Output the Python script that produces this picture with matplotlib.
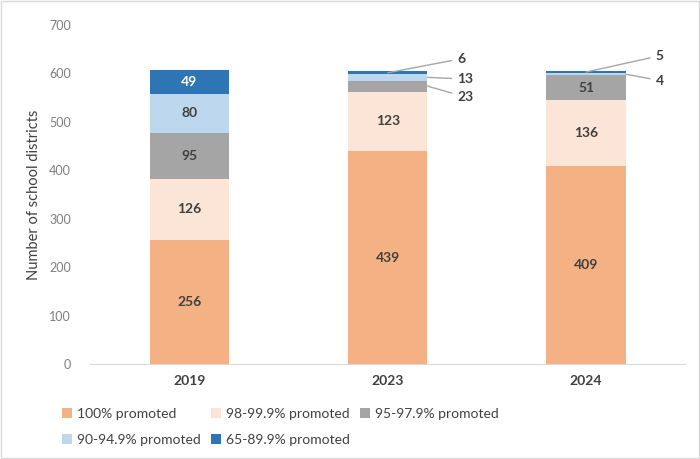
import matplotlib.pyplot as plt
import numpy as np

years = ['2019', '2023', '2024']
series_names = ['100% promoted', '98-99.9% promoted', '95-97.9% promoted',
                '90-94.9% promoted', '65-89.9% promoted']
p100 = [256, 439, 409]
p98 = [126, 123, 136]
p95 = [95, 23, 51]
p90 = [80, 13, 4]
p65 = [49, 6, 5]
colors = ['#F4B183', '#FBE5D6', '#A5A5A5', '#BDD7EE', '#2E75B6']

plt.rcParams['font.family'] = ['Lato', 'DejaVu Sans']

fig = plt.figure(figsize=(7, 4.59), dpi=100)
ax = fig.add_axes([0.129, 0.207, 0.85, 0.739])

x = np.arange(len(years))
width = 0.4
bottom = np.zeros(len(years))
series = [p100, p98, p95, p90, p65]
bars = []
for name, vals, c in zip(series_names, series, colors):
    b = ax.bar(x, vals, width, bottom=bottom, color=c, label=name)
    bars.append(b)
    for i, v in enumerate(vals):
        # small segments get callouts instead
        if v >= 40:
            ax.text(x[i], bottom[i] + v / 2, str(v), ha='center', va='center',
                    fontsize=10, fontweight='bold',
                    color='white' if c == '#2E75B6' else '#404040')
    bottom += np.array(vals)

# callouts for thin segments
def callout(i, y_pt, x_pt, ytxt, label):
    ax.annotate(label, xy=(x_pt, y_pt), xytext=(x[i] + 0.35, ytxt),
                fontsize=10, fontweight='bold', color='#404040', va='center',
                arrowprops=dict(arrowstyle='-', color='#A6A6A6', lw=1,
                                shrinkA=2, shrinkB=0))

tops = bottom
callout(1, tops[1] - p65[1] / 2, x[1], 630, '6')
callout(1, p100[1] + p98[1] + p95[1] + p90[1] / 2, x[1] + width / 2, 588, '13')
callout(1, p100[1] + p98[1] + p95[1] / 2, x[1] + width / 2, 551, '23')
callout(2, tops[2] - p65[2] / 2, x[2], 636, '5')
callout(2, p100[2] + p98[2] + p95[2] + p90[2] / 2, x[2] + width / 2, 585, '4')

ax.set_xlim(-0.5, 2.5)
ax.set_ylim(0, 700)
ax.set_yticks(range(0, 701, 100))
ax.set_xticks(x)
ax.set_xticklabels(years, fontsize=10, fontweight='bold', color='#404040')
ax.tick_params(axis='y', length=0, pad=14, labelsize=9, labelcolor='#7F7F7F')
ax.tick_params(axis='x', length=0, pad=8)
for s in ['top', 'right', 'left']:
    ax.spines[s].set_visible(False)
ax.spines['bottom'].set_color('#D9D9D9')
ax.set_ylabel('Number of school districts', fontsize=10.5, color='#404040', labelpad=6)

# legend filled row by row: reorder for matplotlib's column-major layout
order = [0, 3, 1, 4, 2]
leg = fig.legend(handles=[bars[k] for k in order],
                 labels=[series_names[k] for k in order], loc='lower left',
                 bbox_to_anchor=(0.071, 0.002), ncol=3, frameon=False,
                 fontsize=10, handlelength=0.7, handleheight=0.7,
                 handletextpad=0.4, columnspacing=0.7, labelspacing=1.0)
for t in leg.get_texts():
    t.set_color('#404040')

fig.patches.append(plt.Rectangle((0.002, 0.002), 0.996, 0.996, transform=fig.transFigure,
                                 fill=False, edgecolor='#D9D9D9', lw=1))

fig.savefig('out.png', dpi=100)
